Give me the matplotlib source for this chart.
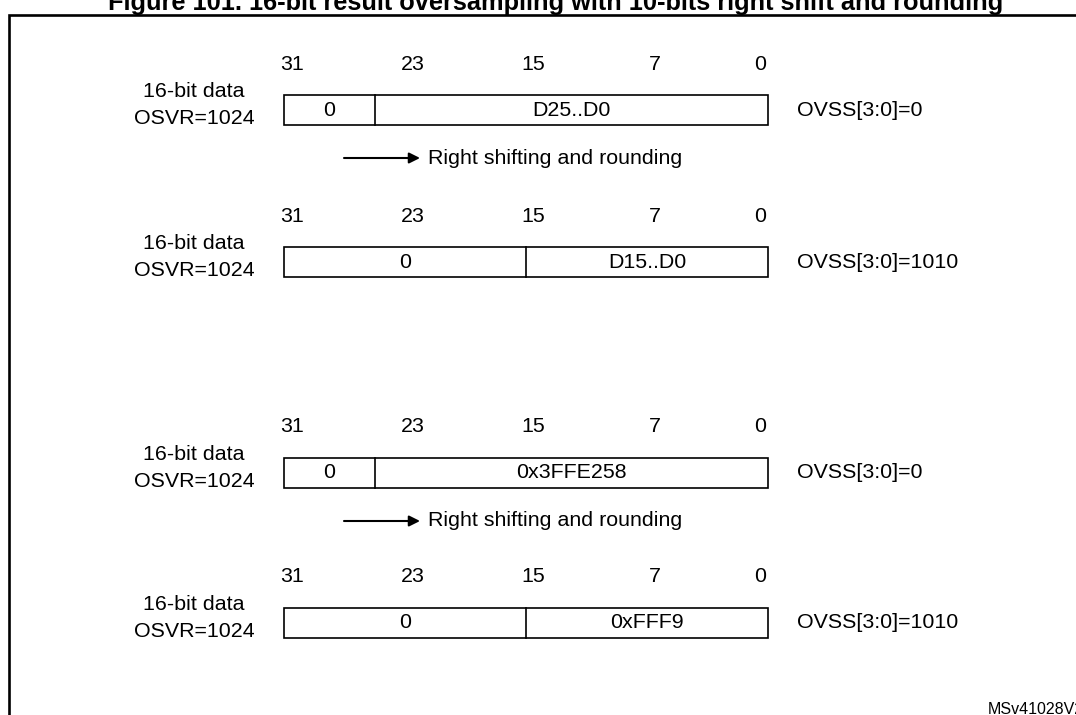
import matplotlib
matplotlib.use("Agg")
import matplotlib.pyplot as plt
from matplotlib.patches import Rectangle

plt.rcParams['font.family'] = ['Liberation Sans', 'DejaVu Sans']

title = "Figure 101. 16-bit result oversampling with 10-bits right shift and rounding"
bit_labels = [31, 23, 15, 7, 0]
row_left = ["16-bit data\nOSVR=1024"] * 4
row_ovss = ["OVSS[3:0]=0", "OVSS[3:0]=1010", "OVSS[3:0]=0", "OVSS[3:0]=1010"]
# bits >= split are zero, bits below split hold the value
field_split = [26, 16, 26, 16]
field_value = ["D25..D0", "D15..D0", "0x3FFE258", "0xFFF9"]
shift_after = [0, 2]
shift_text = "Right shifting and rounding"
doc_id = "MSv41028V2"

# layout, in pixels
W, H = 1076, 715
PX_PER_BIT = 15.125
BOX_RIGHT = 768
row_top = [95, 247, 458, 608]
BOX_H = 30
FS = 15.4


def bx(px):
    # pixel column -> bit coordinate
    return (BOX_RIGHT - px) / PX_PER_BIT


fig = plt.figure(figsize=(W / 100, H / 100), dpi=100)
ax = fig.add_axes([0, 0, 1, 1])
ax.set_xlim(bx(0), bx(W))
ax.set_ylim(H, 0)
ax.axis("off")

# title (cut by the top edge) and frame
ax.text(bx(556), 10, title, ha="center", va="baseline", fontsize=18.3,
        fontweight="bold")
ax.plot([bx(9), bx(9), bx(W + 10)], [H + 10, 15, 15], color="black", lw=1.9,
        solid_joinstyle="miter")

for i, top in enumerate(row_top):
    mid = top + BOX_H / 2
    for b in bit_labels:
        ax.text(b + 0.5, top - 31, str(b), ha="center", va="center", fontsize=FS)
    ax.add_patch(Rectangle((0, top), 32, BOX_H, fill=False, edgecolor="black", lw=1.2))
    ax.plot([field_split[i], field_split[i]], [top, top + BOX_H], color="black", lw=1.2)
    ax.text((32 + field_split[i]) / 2, mid, "0", ha="center", va="center", fontsize=FS)
    ax.text(field_split[i] / 2, mid, field_value[i], ha="center", va="center", fontsize=FS)
    ax.text(bx(194), mid - 5, row_left[i], ha="center", va="center", fontsize=FS,
            linespacing=1.55)
    ax.text(bx(797), mid, row_ovss[i], ha="left", va="center", fontsize=FS)

for i in shift_after:
    y = row_top[i] + BOX_H + 33
    ax.annotate("", xy=(bx(420), y), xytext=(bx(344), y),
                arrowprops=dict(arrowstyle="-|>", color="black", lw=1.5,
                                mutation_scale=16, shrinkA=0, shrinkB=0))
    ax.text(bx(428), y, shift_text, ha="left", va="center", fontsize=FS)

ax.text(bx(988), 714, doc_id, ha="left", va="baseline", fontsize=11.5)

fig.savefig("out.png", dpi=100)
